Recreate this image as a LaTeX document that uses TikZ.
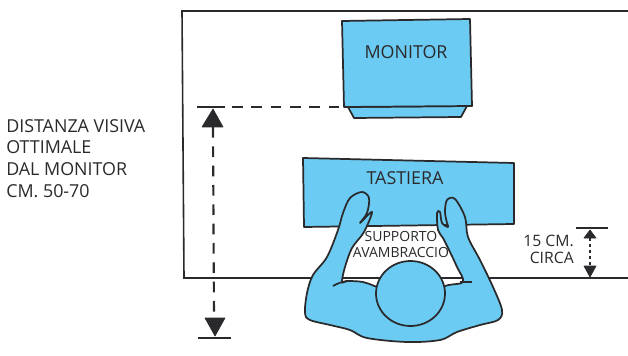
\documentclass[tikz,border=0pt]{standalone}
\usepackage{fontspec}
\setmainfont{Open Sans}
\definecolor{skyblue}{HTML}{6CCBF3}
\definecolor{inkline}{HTML}{2A2A2C}
\tikzset{
  outline/.style={draw=inkline, line width=1.3pt, line join=round},
  plate/.style={outline, fill=skyblue},
  wall/.style={draw=inkline, line width=1.2pt},
  measure/.style={draw=inkline, line width=1.6pt, dash pattern=on 8pt off 6.5pt},
  shortmeasure/.style={draw=inkline, line width=1.6pt, dash pattern=on 2.5pt off 2pt},
  tick/.style={draw=inkline, line width=1.3pt},
  head/.style={fill=inkline, draw=inkline, line width=0.5pt, line join=round},
  label/.style={text=inkline, font=\fontsize{13.4}{16.2}\selectfont, inner sep=0pt},
  small/.style={text=inkline, font=\fontsize{10.5}{12}\selectfont, inner sep=0pt},
  note/.style={text=inkline, font=\fontsize{11.8}{12.8}\selectfont, inner sep=0pt}
}
\begin{document}
\begin{tikzpicture}[x=0.75pt, y=-0.75pt]
  \useasboundingbox (0,0) rectangle (628,356);
  % room outline and desk edge
  \draw[wall] (628,11) -- (182,11) -- (184,278) -- (628,278);

  % monitor with its foot
  \draw[plate] (348,107) -- (354,118) -- (461,117) -- (467,106) -- cycle;
  \draw[plate] (342,21) -- (470,19) -- (472,106) -- (344,107) -- cycle;
  \node[label] (monitor) at (406,52) {MONITOR};

  % keyboard
  \draw[plate] (303,158) -- (514,163) -- (514,224) -- (304,227) -- cycle;
  \node[label] (tastiera) at (405,178) {TASTIERA};

  % body with arms and hands
  \draw[plate] plot[smooth cycle, tension=0.55] coordinates {
    (342,282) (345,267) (352,248) (364,232) (372,212) (360,223) (367,213) (369,198)
    (362,192) (350,198) (343,213) (338,230) (327,257) (313,275) (307,293) (305,313)
    (310,320) (330,325) (350,330) (367,338) (407,342) (440,340) (457,332) (480,325)
    (498,320) (502,310) (493,287) (480,260) (468,237) (465,217) (455,199) (447,200)
    (445,212) (447,223) (448,227) (442,223) (440,212) (437,213) (438,230) (443,238)
    (450,252) (457,267) (463,282) (445,286) (410,300) (377,287) (363,282) (347,281)};
  \draw[outline] (333,286) .. controls (338,283) and (342,282) .. (347,281);
  \draw[outline] (460,282) -- (472,282);

  % head
  \draw[plate] (410.5,293.5) circle[x radius=34.5, y radius=32.5];
  \node[small] (supporto) at (401,236) {SUPPORTO};
  \node[small] (avambraccio) at (401,252) {AVAMBRACCIO};

  % viewing distance
  \coordinate (eyeleft) at (197,107);
  \coordinate (eyeright) at (225,107);
  \coordinate (screen) at (344,107);
  \coordinate (eyetop) at (213,127);
  \coordinate (eyebot) at (214,318);
  \coordinate (floorleft) at (198,338);
  \coordinate (floorright) at (231,338);
  \draw[tick] (eyeleft) -- (eyeright);
  \draw[measure] (eyeright) ++(7,0) -- (screen);
  \draw[measure] (eyetop) -- (eyebot);
  \draw[tick] (floorleft) -- (floorright);
  \draw[head] (213,109) -- (223,127) -- (202,127) -- cycle;
  \draw[head] (215,336) -- (205,318) -- (225,318) -- cycle;
  \node[label, align=left, anchor=north west] (distanza) at (6,119) {DISTANZA VISIVA\\OTTIMALE\\DAL MONITOR\\CM. 50-70};

  % forearm rest height
  \coordinate (restleft) at (576,228);
  \coordinate (restright) at (608,228);
  \coordinate (resttop) at (590,238);
  \coordinate (restbot) at (590,266);
  \draw[tick] (restleft) -- (restright);
  \draw[head] (590,230) -- (596,238) -- (584,238) -- cycle;
  \draw[head] (590,277) -- (584,266) -- (596,266) -- cycle;
  \draw[shortmeasure] (resttop) -- (restbot);
  \node[note, align=right, anchor=north east] (quindici) at (574,235) {15 CM.\\CIRCA};
\end{tikzpicture}
\end{document}
